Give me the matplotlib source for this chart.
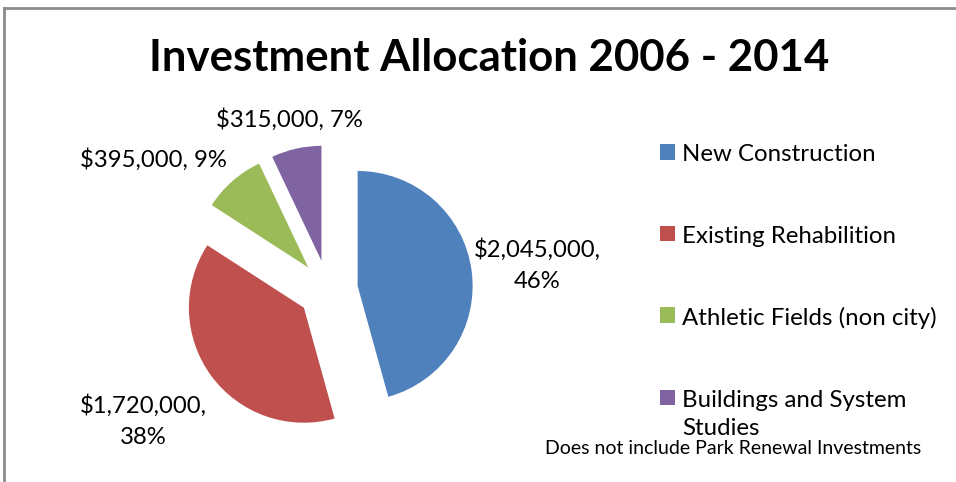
import numpy as np
import matplotlib.pyplot as plt
from matplotlib.lines import Line2D
from matplotlib.patches import Patch

categories = ['New Construction', 'Existing Rehabilition',
              'Athletic Fields (non city)', 'Buildings and System\nStudies']
amounts = [2045000, 1720000, 395000, 315000]
percents = [46, 38, 9, 7]
colors = ['#4F81BD', '#C0504D', '#9BBB59', '#8064A2']

# label placement: distance from centre (in radii) and small angle nudge
label_dist = [1.83, 1.97, 1.9, 1.52]
label_nudge = [-1, -1, 12, 0]

plt.rcParams['font.family'] = ['Lato', 'DejaVu Sans']

fig = plt.figure(figsize=(9.56, 4.82), dpi=100)
W, H = 956, 482

# pie centre / radius in pixels
cx, cy, r = 328, 482 - 290, 115
half = 170
ax = fig.add_axes([(cx - half) / W, (cy - half) / H, 2 * half / W, 2 * half / H])
wedges, _ = ax.pie(amounts, colors=colors, startangle=90, counterclock=False,
                   explode=[0.26] * 4, radius=1.0)
ax.set_xlim(-half / r, half / r)
ax.set_ylim(-half / r, half / r)
ax.set_aspect('equal')
ax.axis('off')

for w, amt, pct, d, nd in zip(wedges, amounts, percents, label_dist, label_nudge):
    ang = np.deg2rad((w.theta1 + w.theta2) / 2 + nd)
    if pct > 20:
        txt = f'${amt:,},\n{pct}%'
    else:
        txt = f'${amt:,}, {pct}%'
    ax.text(d * np.cos(ang), d * np.sin(ang), txt, ha='center', va='center',
            fontsize=17.2, linespacing=1.6, clip_on=False)

fig.text(489 / W, 1 - 58 / H, 'Investment Allocation 2006 - 2014',
         ha='center', va='center', fontsize=31.5, fontweight='bold')

handles = [Patch(facecolor=c, edgecolor='none') for c in colors]
leg = fig.legend(handles, categories, loc='upper left',
                 bbox_to_anchor=(648 / W, 1 - 132 / H), frameon=False,
                 fontsize=17.3, handlelength=0.62, handleheight=0.62,
                 handletextpad=0.3, labelspacing=2.52, borderpad=0)
for hp in leg._legend_handle_box.get_children()[0].get_children():
    hp.align = 'top'
for t in leg.get_texts():
    t.set_linespacing(1.45)

fig.text(733 / W, 1 - 449 / H, 'Does not include Park Renewal Investments',
         ha='center', va='center', fontsize=14)

# chart border (left and top edges visible)
fig.add_artist(Line2D([4 / W, 4 / W], [0, 1 - 8 / H], transform=fig.transFigure,
                      color='#8c8c8c', lw=2))
fig.add_artist(Line2D([4 / W, 1], [1 - 8 / H, 1 - 8 / H], transform=fig.transFigure,
                      color='#8c8c8c', lw=2))

fig.savefig('out.png', dpi=100)
